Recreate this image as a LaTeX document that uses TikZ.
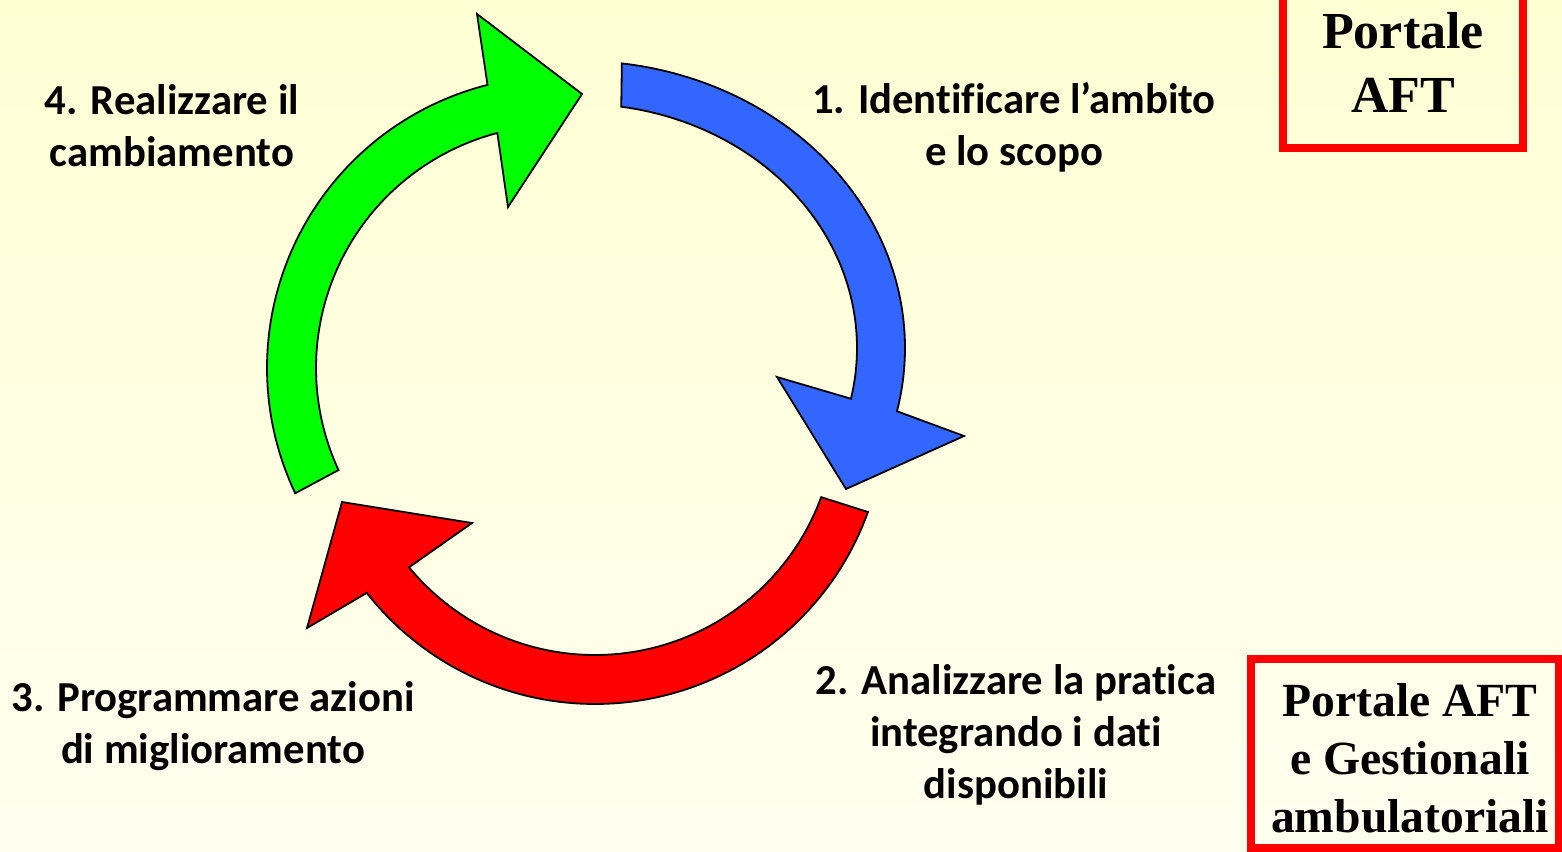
\documentclass[tikz,border=0pt]{standalone}
\usepackage{fontspec}
\setmainfont{Carlito}[Ligatures=NoCommon]
\newfontfamily\timesfont{Liberation Serif}
\definecolor{bgtop}{HTML}{FFFFD4}
\definecolor{bgbot}{HTML}{FFFFF0}
\definecolor{blueA}{HTML}{3366FF}
\definecolor{greenA}{HTML}{00FF00}
\definecolor{redA}{HTML}{FF0000}
\definecolor{boxred}{HTML}{FF0000}
\tikzset{
  arrowshape/.style={draw=black, line width=1.8pt, line join=miter},
  label/.style={font=\fontsize{42.7pt}{52pt}\selectfont\bfseries, align=center, inner sep=0pt},
  boxtext/.style={align=center, inner sep=0pt},
  redframe/.style={draw=boxred, line width=7.5pt},
}
\begin{document}
\begin{tikzpicture}[x=1pt,y=-1pt]
\useasboundingbox (0,0) rectangle (1562,851);
\shade[top color=bgtop, bottom color=bgbot] (0,0) rectangle (1562,851);

% blue arrow (1 -> 2): elliptical band, centre (580,348)
\path[arrowshape, fill=blueA]
  plot[domain=0:1, samples=80, variable=\s]
    ({580+325*cos(-82.6+95.4*\s)}, {348+287*sin(-82.6+95.4*\s)})
  -- (964,436) -- (846,489) -- (777,377)
  -- plot[domain=0:1, samples=80, variable=\s]
    ({580+277*cos(12-93.5*\s)}, {348+244*sin(12-93.5*\s)})
  -- cycle;

% red arrow (2 -> 3): circular band, centre (595,414)
\path[arrowshape, fill=redA]
  plot[domain=0:1, samples=80, variable=\s]
    ({595+290*cos(19.75+122.25*\s)}, {414+290*sin(19.75+122.25*\s)})
  -- (307,628) -- (342,502) -- (472,523)
  -- plot[domain=0:1, samples=80, variable=\s]
    ({595+241*cos(140.5-120.4*\s)}, {414+241*sin(140.5-120.4*\s)})
  -- cycle;

% green arrow (3 -> 4): circular band, centre (559,368)
\path[arrowshape, fill=greenA]
  plot[domain=0:1, samples=80, variable=\s]
    ({559+292*cos(154.6+101.3*\s)}, {368+292*sin(154.6+101.3*\s)})
  -- (477,14) -- (582,94) -- (508,207)
  -- plot[domain=0:1, samples=80, variable=\s]
    ({559+243*cos(255.3-100.2*\s)}, {368+243*sin(255.3-100.2*\s)})
  -- cycle;

% labels
\node[label] (l1) at (1014,127) {1. Identificare l’ambito\\e lo scopo};
\node[label] (l2) at (1016,735) {2. Analizzare la pratica\\integrando i dati\\disponibili};
\node[label] (l3) at (213,726) {3. Programmare azioni\\di miglioramento};
\node[label] (l4) at (172,126) {4. Realizzare il\\cambiamento};

% boxes
\draw[redframe] (1283,-20) rectangle (1523,148);
\node[boxtext, font=\timesfont\bfseries\fontsize{52pt}{64pt}\selectfont] (p1) at (1403,62) {Portale\\AFT};
\draw[redframe] (1251,659) rectangle (1559,848);
\node[boxtext, font=\timesfont\bfseries\fontsize{47.6pt}{58pt}\selectfont] (p2) at (1410,758) {Portale AFT\\e Gestionali\\ambulatoriali};
\end{tikzpicture}
\end{document}
